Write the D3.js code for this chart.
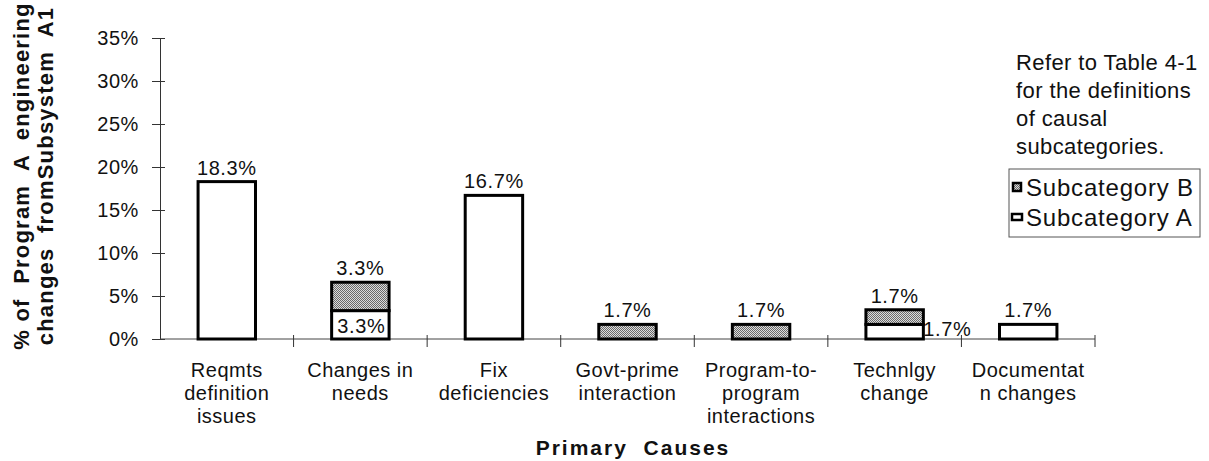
<!DOCTYPE html>
<html>
<head>
<meta charset="utf-8">
<script src="https://cdn.jsdelivr.net/npm/d3@7"></script>
<style>
  body { margin: 0; background: #fff; }
  text { font-family: 'Liberation Sans', Arial, Helvetica, sans-serif; fill: #111; }
</style>
</head>
<body>
<svg id="chart" width="1209" height="461"></svg>
<script>
// data
const categories = [
  'Reqmts|definition|issues',
  'Changes in|needs',
  'Fix|deficiencies',
  'Govt-prime|interaction',
  'Program-to-|program|interactions',
  'Technlgy|change',
  'Documentat|n changes',
];
const subA = [18.3, 3.3, 16.7, 0, 0, 1.7, 1.7];
const subB = [0, 3.3, 0, 1.7, 1.7, 1.7, 0];
const yTicks = [0, 5, 10, 15, 20, 25, 30, 35];
const seriesNames = ['Subcategory A', 'Subcategory B'];
const noteLines = ['Refer to Table 4-1', 'for the definitions', 'of causal', 'subcategories.'];

const svg = d3.select('#chart');
const plot = { left: 160, right: 1095, top: 38, bottom: 339 };

// pattern for subcategory B (stippled grey)
const defs = svg.append('defs');
const pat = defs.append('pattern')
  .attr('id', 'dots')
  .attr('width', 2)
  .attr('height', 2)
  .attr('patternUnits', 'userSpaceOnUse');
pat.append('rect').attr('width', 2).attr('height', 2).attr('fill', '#dcdcdc');
pat.append('rect').attr('x', 0).attr('y', 0).attr('width', 1).attr('height', 1).attr('fill', '#6a6a6a');
pat.append('rect').attr('x', 1).attr('y', 1).attr('width', 1).attr('height', 1).attr('fill', '#6a6a6a');

const x = d3.scaleBand().domain(categories).range([plot.left, plot.right]).padding(0);
const y = d3.scaleLinear().domain([0, 35]).range([plot.bottom, plot.top]);
const barW = x.bandwidth() * 0.43;

const rows = categories.map((c, i) => ({ cat: c, A: subA[i], B: subB[i] }));
const stacked = d3.stack().keys(['A', 'B'])(rows);

// y axis
const yAxis = svg.append('g')
  .attr('transform', `translate(${plot.left},0)`)
  .call(d3.axisLeft(y).tickValues(yTicks).tickFormat((d) => `${d}%`).tickSize(8).tickPadding(13));
yAxis.select('.domain').attr('stroke', '#333').attr('stroke-width', 1);
yAxis.selectAll('.tick line').attr('x1', 5).attr('x2', -8).attr('stroke', '#333');
yAxis.selectAll('.tick text')
  .attr('font-size', 20)
  .attr('letter-spacing', 0.6)
  .attr('font-family', "'Liberation Sans', Arial, sans-serif")
  .attr('fill', '#111');

// x axis base line and cross ticks at band edges
svg.append('line')
  .attr('x1', plot.left).attr('x2', plot.right)
  .attr('y1', y(0)).attr('y2', y(0))
  .attr('stroke', '#444').attr('stroke-width', 1);
const edges = categories.map((c) => x(c)).concat([x(categories[categories.length - 1]) + x.bandwidth()]);
svg.append('g').selectAll('line')
  .data(edges.slice(1))
  .join('line')
  .attr('x1', (d) => d).attr('x2', (d) => d)
  .attr('y1', y(0) - 4).attr('y2', y(0) + 8)
  .attr('stroke', '#333');

// category labels
const catG = svg.append('g');
categories.forEach((c) => {
  const t = catG.append('text')
    .attr('text-anchor', 'middle')
    .attr('font-size', 20)
    .attr('letter-spacing', 0.5)
    .attr('x', x(c) + x.bandwidth() / 2)
    .attr('y', 377);
  c.split('|').forEach((line, k) => {
    t.append('tspan')
      .attr('x', x(c) + x.bandwidth() / 2)
      .attr('dy', k === 0 ? 0 : 23)
      .text(line);
  });
});

// bars
const fills = { A: '#fff', B: 'url(#dots)' };
stacked.forEach((layer) => {
  svg.append('g').selectAll('rect')
    .data(layer.filter((d) => d[1] - d[0] > 0))
    .join('rect')
    .attr('x', (d) => x(d.data.cat) + (x.bandwidth() - barW) / 2)
    .attr('y', (d) => y(d[1]))
    .attr('width', barW)
    .attr('height', (d) => y(d[0]) - y(d[1]))
    .attr('fill', fills[layer.key])
    .attr('stroke', '#000')
    .attr('stroke-width', 3);
});

// data labels
const labG = svg.append('g').attr('font-size', 20).attr('letter-spacing', 0.6);
rows.forEach((r) => {
  const cx = x(r.cat) + x.bandwidth() / 2;
  const top = y(r.A + r.B);
  if (r.B > 0) {
    labG.append('text').attr('text-anchor', 'middle')
      .attr('x', cx).attr('y', top - 7).text(`${r.B}%`);
  }
  if (r.A > 0) {
    if (r.B === 0) {
      labG.append('text').attr('text-anchor', 'middle')
        .attr('x', cx).attr('y', y(r.A) - 7).text(`${r.A}%`);
    } else if (y(0) - y(r.A) >= 20) {
      labG.append('text').attr('text-anchor', 'middle')
        .attr('x', cx + 1).attr('y', (y(0) + y(r.A)) / 2 + 8).text(`${r.A}%`);
    } else {
      labG.append('text').attr('text-anchor', 'start')
        .attr('x', cx + barW / 2).attr('y', (y(0) + y(r.A)) / 2 + 4).text(`${r.A}%`);
    }
  }
});

// axis titles
const yTitle = svg.append('text')
  .attr('transform', 'translate(29,176) rotate(-90)')
  .attr('text-anchor', 'middle')
  .attr('font-size', 22)
  .attr('font-weight', 700)
  .attr('letter-spacing', 1.2)
  .style('white-space', 'pre');
yTitle.append('tspan').attr('x', 0).attr('dy', 0).text('% of  Program  A  engineering');
yTitle.append('tspan').attr('x', 0).attr('dy', 24).text('changes  fromSubsystem  A1');

svg.append('text')
  .attr('x', 633).attr('y', 455)
  .attr('text-anchor', 'middle')
  .attr('font-size', 21)
  .attr('font-weight', 700)
  .attr('letter-spacing', 2)
  .style('white-space', 'pre')
  .text('Primary  Causes');

// note and legend
const note = svg.append('text').attr('font-size', 22).attr('letter-spacing', 0.4);
noteLines.forEach((line, k) => {
  note.append('tspan').attr('x', 1016).attr('y', 70 + k * 28).text(line);
});

svg.append('rect')
  .attr('x', 1009).attr('y', 169)
  .attr('width', 191).attr('height', 68)
  .attr('fill', 'none')
  .attr('stroke', '#555')
  .attr('stroke-width', 1);

const legendItems = [seriesNames[1], seriesNames[0]];
const legG = svg.append('g');
legendItems.forEach((name, k) => {
  const cy = 187 + k * 30;
  const isB = name === seriesNames[1];
  legG.append('rect')
    .attr('x', isB ? 1013 : 1012)
    .attr('y', isB ? cy - 4 : cy - 3)
    .attr('width', isB ? 8 : 10)
    .attr('height', isB ? 8 : 6)
    .attr('fill', isB ? 'url(#dots)' : '#fff')
    .attr('stroke', '#000')
    .attr('stroke-width', 2.5);
  legG.append('text')
    .attr('x', 1026).attr('y', cy + 8.5)
    .attr('font-size', 24)
    .attr('letter-spacing', 0.8)
    .text(name);
});
</script>
</body>
</html>
